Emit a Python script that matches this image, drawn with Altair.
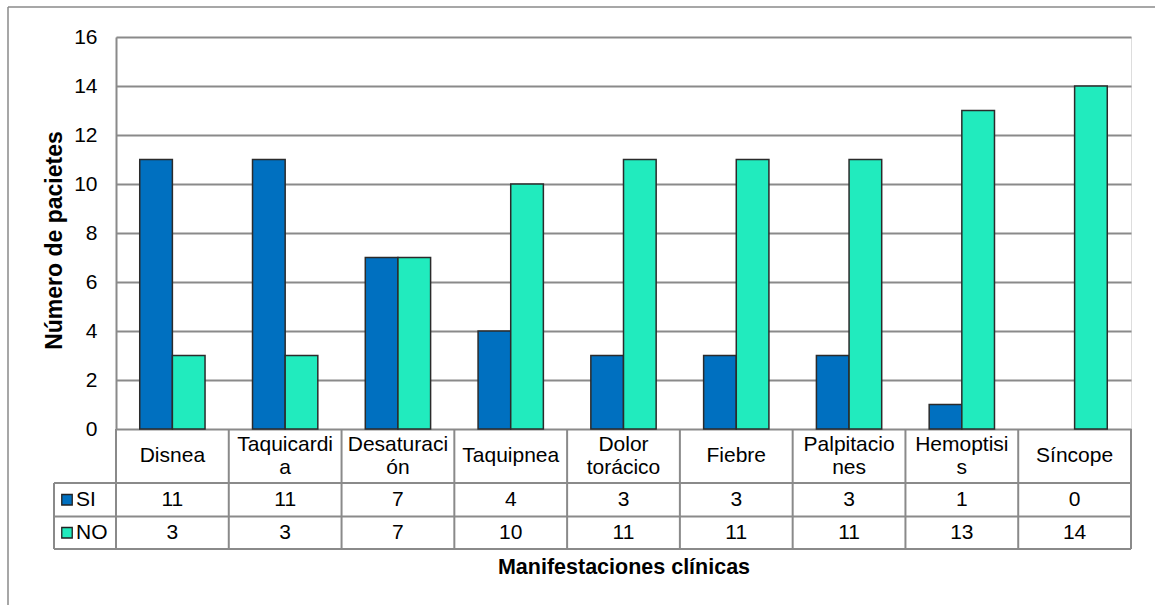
import altair as alt
import pandas as pd

# Datos: manifestaciones clínicas (SI / NO) por número de pacientes
categorias = ["Disnea", "Taquicardia", "Desaturación", "Taquipnea", "Dolor torácico",
              "Fiebre", "Palpitaciones", "Hemoptisis", "Síncope"]
etiquetas = ["Disnea", "Taquicardi\na", "Desaturaci\nón", "Taquipnea", "Dolor\ntorácico",
             "Fiebre", "Palpitacio\nnes", "Hemoptisi\ns", "Síncope"]
series = ["SI", "NO"]
valores_si = [11, 11, 7, 4, 3, 3, 3, 1, 0]
valores_no = [3, 3, 7, 10, 11, 11, 11, 13, 14]
colores = ["#0070C0", "#21EBBE"]
y_ticks = list(range(0, 17, 2))

# Tamaño del área de trazado y de la tabla de datos inferior
W, H = 1015, 392
fila_cat = (H, 446)
fila_si = (446, 479.5)
fila_no = (479.5, 512)
leyenda_x = -62
GRIS = "#8a8a8a"
FUENTE = "Liberation Sans"
TAM = 21
INTERLINEA = 23

largo = pd.DataFrame(
    [{"categoria": c, "etiqueta": e, "serie": "SI", "valor": v}
     for c, e, v in zip(categorias, etiquetas, valores_si)]
    + [{"categoria": c, "etiqueta": e, "serie": "NO", "valor": v}
       for c, e, v in zip(categorias, etiquetas, valores_no)]
)
cats = pd.DataFrame({"categoria": categorias, "etiqueta": etiquetas})
cats["lineas"] = cats["etiqueta"].str.count("\n") + 1

x_scale = alt.Scale(domain=categorias, paddingInner=0, paddingOuter=0)
color_scale = alt.Scale(domain=series, range=colores)

x_enc = alt.X(
    "categoria:N", scale=x_scale, sort=categorias,
    axis=alt.Axis(labels=False, ticks=False, domain=False, grid=False,
                  title="Manifestaciones clínicas", titleFontSize=21.5,
                  titleFontWeight="bold", titleColor="black",
                  titleX=W / 2, titleY=138, titleBaseline="middle"),
)

barras = alt.Chart(largo).transform_filter("datum.valor > 0").mark_bar(
    stroke="#2b2b2b", strokeWidth=1.5
).encode(
    x=x_enc,
    xOffset=alt.XOffset("serie:N", sort=series,
                        scale=alt.Scale(domain=series, paddingInner=0, paddingOuter=0.727)),
    y=alt.Y(
        "valor:Q", scale=alt.Scale(domain=[0, 16], nice=False),
        axis=alt.Axis(values=y_ticks, grid=True, gridColor=GRIS, gridWidth=2,
                      domainColor=GRIS, domainWidth=2, ticks=False,
                      labelFontSize=TAM, labelPadding=19, labelColor="black",
                      title="Número de pacietes", titleFontSize=23,
                      titleFontWeight="bold", titleColor="black",
                      titleX=-62, titleY=203, titleAngle=-90,
                      titleAlign="center", titleBaseline="middle"),
    ),
    color=alt.Color("serie:N", scale=color_scale, legend=None),
)

# Líneas verticales de la tabla (bordes de cada categoría)
v_izq = alt.Chart(cats).mark_rule(color=GRIS, strokeWidth=2).encode(
    x=alt.X("categoria:N", scale=x_scale, sort=categorias, bandPosition=0),
    y=alt.value(fila_cat[0]), y2=alt.value(fila_no[1]),
)
v_der = alt.Chart(cats.tail(1)).mark_rule(color=GRIS, strokeWidth=2).encode(
    x=alt.X("categoria:N", scale=x_scale, sort=categorias, bandPosition=1),
    y=alt.value(fila_cat[0]), y2=alt.value(fila_no[1]),
)
# Líneas horizontales de la tabla y columna de la leyenda
h_lineas = [
    alt.Chart(cats.head(1)).mark_rule(color=GRIS, strokeWidth=2).encode(
        x=alt.value(leyenda_x), x2=alt.value(W), y=alt.value(yv))
    for yv in (fila_si[0], fila_si[1], fila_no[1])
]
v_leyenda = alt.Chart(cats.head(1)).mark_rule(color=GRIS, strokeWidth=2).encode(
    x=alt.value(leyenda_x), y=alt.value(fila_si[0]), y2=alt.value(fila_no[1]))

# Marco exterior (lados izquierdo y superior)
marco = [
    alt.Chart(cats.head(1)).mark_rule(color=GRIS, strokeWidth=1.5).encode(
        x=alt.value(-108), y=alt.value(-30), y2=alt.value(568)),
    alt.Chart(cats.head(1)).mark_rule(color=GRIS, strokeWidth=1.5).encode(
        x=alt.value(-108), x2=alt.value(1039), y=alt.value(-30)),
]

# Rótulos de categoría: una o dos líneas, centrados verticalmente en la fila
centro_cat = (fila_cat[0] + fila_cat[1]) / 2
rotulos = []
for n in (1, 2):
    rotulos.append(
        alt.Chart(cats[cats["lineas"] == n]).mark_text(
            font=FUENTE, fontSize=TAM, lineBreak="\n", lineHeight=INTERLINEA,
            baseline="middle", align="center", color="black"
        ).encode(
            x=alt.X("categoria:N", scale=x_scale, sort=categorias),
            y=alt.value(centro_cat - (n - 1) * INTERLINEA / 2),
            text="etiqueta:N",
        )
    )

capas_filas = []
for s, fila in zip(series, (fila_si, fila_no)):
    yc = (fila[0] + fila[1]) / 2
    datos_s = largo[largo["serie"] == s]
    capas_filas.append(
        alt.Chart(datos_s).mark_text(font=FUENTE, fontSize=TAM, baseline="middle",
                                     align="center", color="black").encode(
            x=alt.X("categoria:N", scale=x_scale, sort=categorias),
            y=alt.value(yc),
            text="valor:Q",
        )
    )
    capas_filas.append(
        alt.Chart(datos_s.head(1)).mark_square(size=110, stroke="#222222",
                                               strokeWidth=1.3, opacity=1).encode(
            x=alt.value(-49), y=alt.value(yc),
            color=alt.Color("serie:N", scale=color_scale, legend=None),
        )
    )
    capas_filas.append(
        alt.Chart(datos_s.head(1)).mark_text(font=FUENTE, fontSize=TAM, baseline="middle",
                                             align="left", color="black").encode(
            x=alt.value(-40), y=alt.value(yc), text="serie:N",
        )
    )

chart = alt.layer(
    barras, v_izq, v_der, v_leyenda, *h_lineas, *marco, *rotulos, *capas_filas
).properties(
    width=W, height=H,
    autosize=alt.AutoSizeParams(type="none"),
    padding={"left": 116, "top": 37, "right": 24, "bottom": 176},
    background="white",
).configure_view(stroke=None).configure(font=FUENTE).configure_axis(
    labelFont=FUENTE, titleFont=FUENTE
)

chart.save("out.html", embed_options={"renderer": "svg", "actions": False})
